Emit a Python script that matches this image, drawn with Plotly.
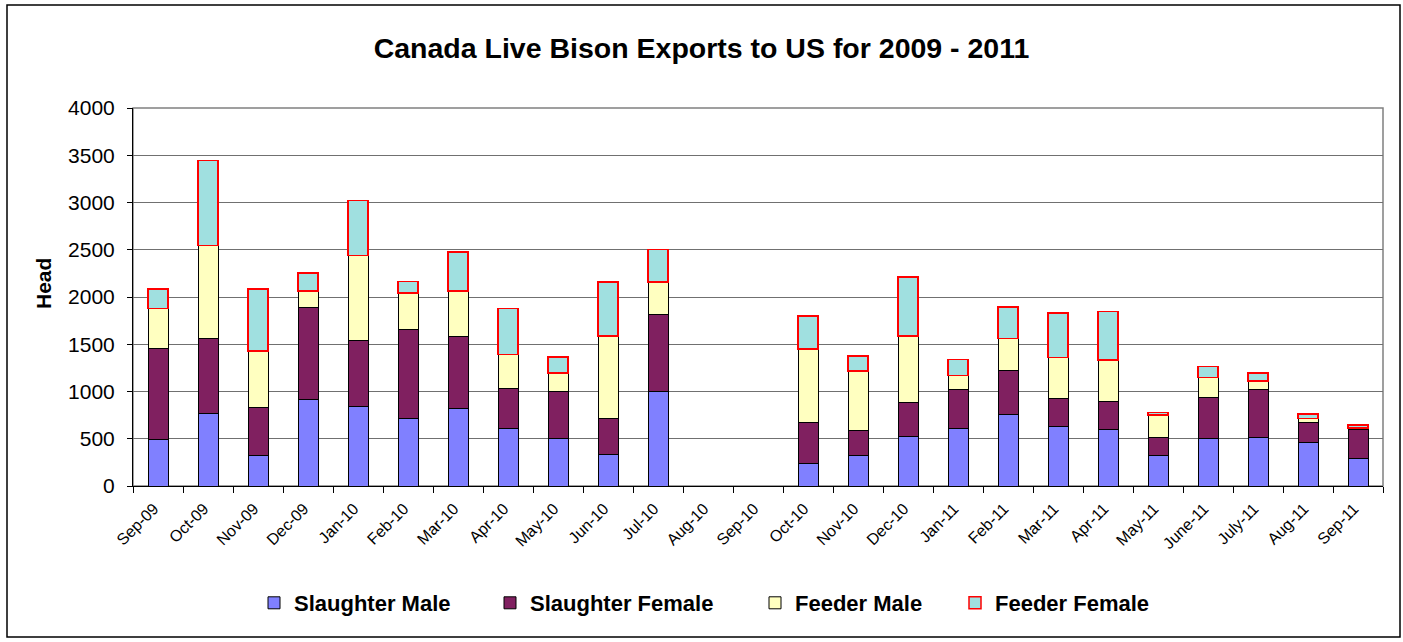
import plotly.graph_objects as go

# ---------------- data ----------------
months = ["Sep-09", "Oct-09", "Nov-09", "Dec-09", "Jan-10", "Feb-10", "Mar-10", "Apr-10",
          "May-10", "Jun-10", "Jul-10", "Aug-10", "Sep-10", "Oct-10", "Nov-10", "Dec-10",
          "Jan-11", "Feb-11", "Mar-11", "Apr-11", "May-11", "June-11", "July-11", "Aug-11", "Sep-11"]

slaughter_male = [490, 765, 328, 916, 842, 719, 818, 606, 507, 331, 1001, None, None,
                  240, 324, 525, 606, 758, 627, 599, 328, 504, 515, 465, 296]
slaughter_female = [965, 796, 504, 969, 694, 934, 768, 427, 494, 384, 810, None, None,
                    433, 265, 356, 419, 461, 303, 293, 183, 437, 510, 208, 300]
feeder_male = [423, 983, 599, 177, 903, 391, 476, 359, 197, 871, 346, None, None,
               779, 627, 705, 145, 342, 430, 444, 240, 208, 85, 39, 17]
feeder_female = [205, 899, 655, 190, 581, 120, 412, 486, 169, 571, 345, None, None,
                 345, 158, 627, 169, 331, 472, 511, 28, 113, 85, 49, 35]

series_names = ["Slaughter Male", "Slaughter Female", "Feeder Male", "Feeder Female"]
y_ticks = [0, 500, 1000, 1500, 2000, 2500, 3000, 3500, 4000]

# ---------------- layout geometry (pixels) ----------------
W, H = 1403, 642
PL, PR, PT, PB = 133, 1383, 108, 486
PW, PH = PR - PL, PB - PT


def px_x(p):
    return (p - PL) / PW


def px_y(p):
    return (PB - p) / PH


FONT = "Arial, Liberation Sans, sans-serif"

fills = ["#8080FF", "#802060", "#FFFFC0", "#A0E0E0"]
edges = ["#000000", "#000000", "#000000", "#FF0000"]
edge_w = [1, 1, 1, 1.5]
values = [slaughter_male, slaughter_female, feeder_male, feeder_female]
legend_ids = ["legend", "legend2", "legend3", "legend4"]
legend_text_x = [294, 530, 795, 995]

fig = go.Figure()
for name, vals, fc, ec, ew, lg in zip(series_names, values, fills, edges, edge_w, legend_ids):
    fig.add_trace(go.Bar(
        x=months, y=vals, name=name,
        marker=dict(color=fc, line=dict(color=ec, width=ew)),
        legend=lg,
    ))

legend_common = dict(
    orientation="h", yanchor="middle", xanchor="left",
    font=dict(family=FONT, size=22, color="#000000", weight="bold"),
    bgcolor="rgba(0,0,0,0)", borderwidth=0,
)
layout_legends = {}
for lg, tx in zip(legend_ids, legend_text_x):
    layout_legends[lg] = dict(legend_common, x=px_x(tx - 40), y=px_y(603))

fig.update_layout(
    width=W, height=H,
    margin=dict(l=PL, r=W - PR, t=PT, b=H - PB),
    paper_bgcolor="#FFFFFF", plot_bgcolor="#FFFFFF",
    barmode="stack", bargap=0.6,
    title=dict(text="<b>Canada Live Bison Exports to US for 2009 - 2011</b>",
               x=0.5, xref="container", xanchor="center",
               y=1 - 48 / H, yref="container", yanchor="middle",
               font=dict(family=FONT, size=28.5, color="#000000")),
    font=dict(family=FONT, color="#000000"),
    showlegend=True,
    **layout_legends,
)

fig.update_xaxes(
    type="category", categoryorder="array", categoryarray=months,
    tickangle=-45, tickfont=dict(family=FONT, size=16, color="#000000"),
    ticks="outside", tickson="boundaries", ticklen=6, tickcolor="#000000",
    ticklabelstandoff=6, ticklabelshift=-4,
    showline=True, linecolor="#000000", linewidth=1,
    showgrid=False, fixedrange=True,
)
fig.update_yaxes(
    range=[0, 4000], tickvals=y_ticks,
    tickfont=dict(family=FONT, size=21, color="#000000"),
    ticks="outside", ticklen=5, tickcolor="#000000", ticklabelstandoff=8,
    showline=True, linecolor="#000000", linewidth=1,
    showgrid=True, gridcolor="#707070", gridwidth=1,
    zeroline=False, fixedrange=True,
)

# y-axis title
fig.add_annotation(text="<b>Head</b>", textangle=-90, xref="paper", yref="paper",
                   x=px_x(43), y=px_y(284), xanchor="center", yanchor="middle",
                   showarrow=False, font=dict(family=FONT, size=21, color="#000000"))

# plot-area frame (gray top/right) and outer chart border
fig.add_shape(type="rect", xref="paper", yref="paper", x0=0, x1=1, y0=0, y1=1,
              line=dict(color="#808080", width=1.5), layer="below")
fig.add_shape(type="rect", xref="paper", yref="paper",
              x0=px_x(7), x1=px_x(1400), y0=px_y(637), y1=px_y(5),
              line=dict(color="#000000", width=1.5), layer="above")

fig.write_html("out.html", config={"displayModeBar": False},
               post_script="document.body.style.margin='0';document.body.style.overflow='hidden';")
